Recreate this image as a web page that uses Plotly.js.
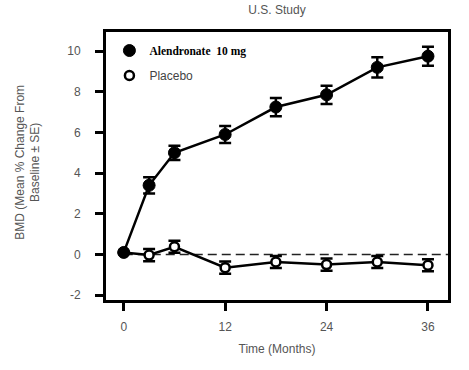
<!DOCTYPE html>
<html>
<head>
<meta charset="utf-8">
<script src="https://cdn.plot.ly/plotly-3.0.1.min.js"></script>
<style>html,body{margin:0;padding:0;background:#fff;}#chart{width:469px;height:370px;}</style>
</head>
<body>
<div id="chart"></div>
<script>
// ---- data ----
var months = [0, 3, 6, 12, 18, 24, 30, 36];
var alendronate = [0.1, 3.4, 5.0, 5.9, 7.25, 7.85, 9.2, 9.75];
var alendronateSE = [0, 0.4, 0.35, 0.42, 0.45, 0.45, 0.5, 0.47];
var placebo = [0.1, -0.03, 0.38, -0.65, -0.37, -0.5, -0.37, -0.53];
var placeboSE = [0, 0.3, 0.3, 0.3, 0.3, 0.3, 0.3, 0.3];
var xTicks = [0, 12, 24, 36];
var yTicks = [-2, 0, 2, 4, 6, 8, 10];
var seriesNames = ['<b>Alendronate  10 mg</b>', 'Placebo'];

var gray = '#555';
var errStyle = function (arr) {
  return {type: 'data', array: arr, visible: true, color: '#000', thickness: 2.5, width: 6};
};

var traces = [
  // placebo line + error bars
  {x: months, y: placebo, mode: 'lines', line: {color: '#000', width: 2.5},
   error_y: errStyle(placeboSE), showlegend: false, hoverinfo: 'skip'},
  // alendronate line + error bars
  {x: months, y: alendronate, mode: 'lines', line: {color: '#000', width: 2.5},
   error_y: errStyle(alendronateSE), showlegend: false, hoverinfo: 'skip'},
  // placebo markers
  {x: months, y: placebo, mode: 'markers', name: seriesNames[1], legendrank: 2, legendgroup: 'p',
   marker: {symbol: 'circle', size: 9, color: '#fff', line: {color: '#000', width: 2.5}}},
  // alendronate markers
  {x: months, y: alendronate, mode: 'markers', name: seriesNames[0], legendrank: 1, legendgroup: 'a',
   marker: {symbol: 'circle', size: 12, color: '#000', line: {color: '#000', width: 1}}}
];

var layout = {
  width: 469, height: 370,
  margin: {l: 105.5, r: 21, t: 31.7, b: 69.5, pad: 0},
  paper_bgcolor: '#fff', plot_bgcolor: '#fff',
  font: {family: 'Liberation Sans, Arial, sans-serif', size: 12, color: gray},
  title: {text: 'U.S. Study', x: 0.5, xref: 'paper', xanchor: 'center', y: 0.973, yanchor: 'middle',
          font: {family: 'Liberation Sans, Arial, sans-serif', size: 12, color: gray}},
  showlegend: true,
  legend: {x: 0.01, y: 0.985, xanchor: 'left', yanchor: 'top', bgcolor: 'rgba(0,0,0,0)',
           tracegroupgap: 6, traceorder: 'grouped',
           font: {family: 'Liberation Sans, Arial, sans-serif', size: 12, color: '#444'}},
  xaxis: {
    range: [-2.1, 38.37], tickmode: 'array', tickvals: xTicks, ticktext: xTicks.map(String),
    showgrid: false, zeroline: false, showline: true, linecolor: '#000', linewidth: 3, mirror: true,
    ticks: 'outside', ticklen: 8, tickwidth: 3, tickcolor: '#000', ticklabelstandoff: 6,
    title: {text: 'Time (Months)', standoff: 12, font: {size: 12, color: gray}},
    fixedrange: true
  },
  yaxis: {
    range: [-2.24, 10.94], tickmode: 'array', tickvals: yTicks, ticktext: yTicks.map(String),
    showgrid: false, zeroline: false, showline: true, linecolor: '#000', linewidth: 3, mirror: true,
    ticks: 'outside', ticklen: 8, tickwidth: 3, tickcolor: '#000', ticklabelstandoff: 12,
    fixedrange: true
  },
  shapes: [
    {type: 'line', xref: 'x', yref: 'y', x0: 0, x1: 38.37, y0: 0, y1: 0, layer: 'below',
     line: {color: '#222', width: 1.5, dash: '9px,5px'}}
  ],
  annotations: [
    {text: 'BMD (Mean % Change From<br>Baseline ± SE)', textangle: -90, xref: 'paper', yref: 'paper',
     x: -0.229, y: 0.515, xanchor: 'center', yanchor: 'middle', showarrow: false, align: 'center',
     font: {size: 12, color: gray}}
  ]
};

// style legend text for alendronate as bold serif
traces[3].name = '<span style="font-family:Liberation Serif, Times New Roman, serif;font-size:11.5px;color:#000">' + seriesNames[0] + '</span>';

Plotly.newPlot('chart', traces, layout, {displayModeBar: false, staticPlot: true});
</script>
</body>
</html>
